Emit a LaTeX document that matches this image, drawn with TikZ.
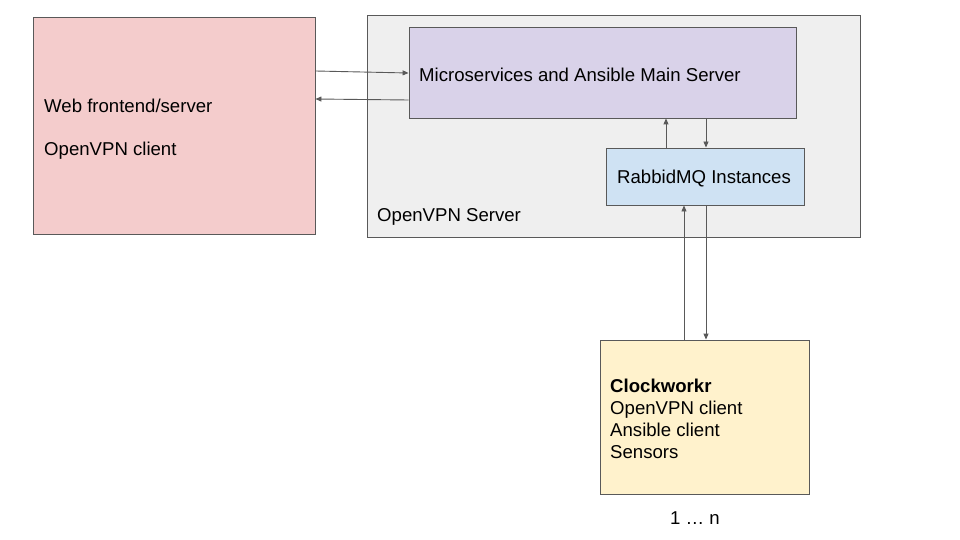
\documentclass[tikz,border=0pt]{standalone}
\usepackage{fontspec}
\setmainfont{Liberation Sans}
\usetikzlibrary{arrows.meta}
\definecolor{edge}{HTML}{595959}
\definecolor{webfill}{HTML}{F4CCCC}
\definecolor{srvfill}{HTML}{EFEFEF}
\definecolor{micfill}{HTML}{D9D2E9}
\definecolor{rabfill}{HTML}{CFE2F3}
\definecolor{clkfill}{HTML}{FFF2CC}
\begin{document}
\begin{tikzpicture}[x=1pt,y=-1pt,
  box/.style={draw=edge,line width=0.9pt,rectangle,inner sep=0pt},
  txt/.style={inner sep=0pt,font=\fontsize{18.6}{22}\selectfont,text=black},
  arr/.style={draw=edge,line width=0.9pt,-{Triangle[length=6pt,width=5pt]}}]
\useasboundingbox[fill=white] (0,0) rectangle (960,540);
\node[box,fill=webfill,minimum width=282pt,minimum height=217pt] (web) at (174,125.5) {};
\node[box,fill=srvfill,minimum width=493pt,minimum height=222pt] (srv) at (613.5,126) {};
\node[box,fill=micfill,minimum width=387pt,minimum height=91pt] (mic) at (602.5,72.5) {};
\node[box,fill=rabfill,minimum width=198pt,minimum height=57pt] (rab) at (705,176.5) {};
\node[box,fill=clkfill,minimum width=209pt,minimum height=154pt] (clk) at (704.5,417) {};
\node[txt,anchor=west] (webt1) at (44,105.5) {Web frontend/server};
\node[txt,anchor=west] (webt2) at (44,150.5) {OpenVPN client};
\node[txt,anchor=west] (mict) at (419,74.5) {Microservices and Ansible Main Server};
\node[txt,anchor=west] (rabt) at (617,178.5) {RabbidMQ Instances};
\node[txt,anchor=west] (srvt) at (377,216.5) {OpenVPN Server};
\node[txt,anchor=north west,align=left] (clkt) at (610,378.5) {\textbf{Clockworkr}\\OpenVPN client\\Ansible client\\Sensors};
\node[txt] (nt) at (695,518.5) {1 … n};
\draw[arr] (web.east |- 0,71) -- (mic.west |- 0,73);
\draw[arr] (mic.west |- 0,100) -- (web.east |- 0,99);
\draw[arr] (rab.north -| 666,0) -- (mic.south -| 666,0);
\draw[arr] (mic.south -| 706,0) -- (rab.north -| 706,0);
\draw[arr] (clk.north -| 684,0) -- (rab.south -| 684,0);
\draw[arr] (rab.south -| 706,0) -- (clk.north -| 706,0);
\end{tikzpicture}
\end{document}
